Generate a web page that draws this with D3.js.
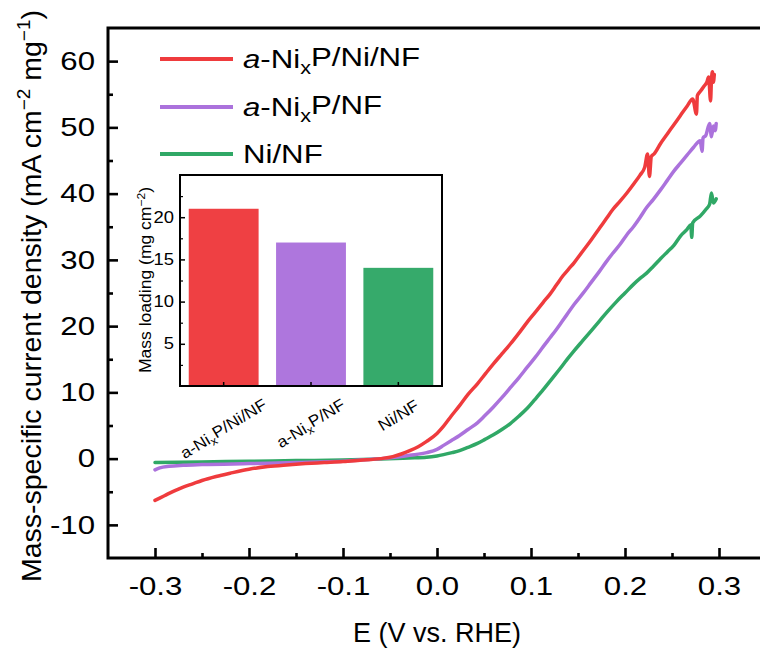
<!DOCTYPE html>
<html><head><meta charset="utf-8">
<script src="https://cdn.jsdelivr.net/npm/d3@7"></script>
<style>
body{margin:0;background:#fff}
svg{display:block}
text{font-family:Arial,"Liberation Sans",sans-serif;fill:#000}
</style>
</head><body>
<svg id="c" width="760" height="649"></svg>
<script>
// ---------------- DATA ----------------
const seriesNames = ["a-NixP/Ni/NF", "a-NixP/NF", "Ni/NF"];
const seriesColors = ["#ef3b3d", "#ab72dc", "#30a866"];

const redE = [-0.300,-0.290,-0.280,-0.270,-0.260,-0.250,-0.235,-0.220,-0.200,-0.180,-0.160,-0.140,-0.120,-0.100,-0.082,-0.060,-0.047,-0.038,-0.029,-0.020,-0.011,0.000,0.007,0.015,0.024,0.033,0.043,0.052,0.060,0.069,0.078,0.088,0.096,0.104,0.113,0.120,0.127,0.134,0.140,0.146,0.155,0.164,0.173,0.180,0.187,0.195,0.202,0.210,0.216,0.221,0.224,0.226,0.228,0.231,0.238,0.245,0.252,0.259,0.266,0.272,0.276,0.277,0.280,0.284,0.287,0.289,0.291,0.292,0.293,0.294,0.295];
const redJ = [-6.3,-5.6,-4.9,-4.3,-3.8,-3.3,-2.7,-2.2,-1.6,-1.2,-0.95,-0.75,-0.6,-0.45,-0.25,0.0,0.3,0.7,1.2,1.8,2.6,3.8,4.9,6.4,8.0,9.7,11.3,12.9,14.3,15.8,17.3,19.1,20.6,22.0,23.6,24.8,26.2,27.6,28.6,29.6,31.3,33.0,34.8,36.2,37.6,38.9,40.1,41.6,42.8,44.0,46.0,42.6,45.6,46.0,47.6,49.0,50.4,51.8,53.2,54.3,52.0,54.8,55.4,56.2,56.8,57.6,54.0,57.2,58.4,56.8,58.0];

const purpleE = [-0.300,-0.295,-0.285,-0.270,-0.250,-0.200,-0.150,-0.100,-0.082,-0.060,-0.045,-0.029,-0.011,0.000,0.007,0.015,0.024,0.033,0.043,0.051,0.060,0.069,0.078,0.087,0.096,0.104,0.113,0.120,0.127,0.131,0.138,0.146,0.155,0.164,0.173,0.180,0.187,0.195,0.202,0.209,0.216,0.223,0.230,0.238,0.245,0.252,0.259,0.266,0.273,0.280,0.282,0.283,0.286,0.290,0.292,0.294,0.296,0.297];
const purpleJ = [-1.7,-1.4,-1.15,-1.0,-0.9,-0.75,-0.6,-0.4,-0.2,0.0,0.2,0.5,0.9,1.4,2.0,2.7,3.5,4.4,5.4,6.5,7.8,9.2,10.7,12.2,13.8,15.2,16.9,18.2,19.5,20.3,21.7,23.3,24.9,26.6,28.3,29.7,31.0,32.4,33.8,35.0,36.4,37.9,39.1,40.6,42.0,43.4,44.6,45.8,47.0,48.0,46.4,48.4,48.8,50.6,48.6,50.2,49.5,50.6];

const greenE = [-0.300,-0.250,-0.200,-0.150,-0.100,-0.060,-0.030,-0.011,0.000,0.007,0.016,0.024,0.033,0.043,0.051,0.060,0.069,0.078,0.087,0.096,0.104,0.113,0.122,0.131,0.138,0.146,0.155,0.164,0.173,0.182,0.191,0.200,0.209,0.216,0.223,0.230,0.238,0.245,0.252,0.259,0.266,0.270,0.271,0.272,0.280,0.286,0.290,0.292,0.294,0.297];
const greenJ = [-0.6,-0.5,-0.4,-0.3,-0.2,-0.05,0.1,0.2,0.4,0.6,0.9,1.2,1.7,2.3,2.9,3.6,4.4,5.3,6.4,7.6,8.9,10.4,12.0,13.6,14.9,16.3,17.8,19.3,20.8,22.3,23.7,25.0,26.3,27.2,28.0,29.0,30.2,31.2,32.2,33.6,34.6,35.3,33.4,35.6,36.6,37.6,38.4,40.1,38.6,39.2];

const xTicks = [-0.3,-0.2,-0.1,0,0.1,0.2,0.3];
const xMinorTicks = [-0.25,-0.15,-0.05,0.05,0.15,0.25];
const yTicks = [-10,0,10,20,30,40,50,60];
const yMinorTicks = [-5,5,15,25,35,45,55];

const insetCategories = ["a-NixP/Ni/NF", "a-NixP/NF", "Ni/NF"];
const insetValues = [21, 17, 14];
const insetColors = ["#ef4043", "#ae76dd", "#36aa6b"];
const insetYTicks = [5,10,15,20];
const insetYMinor = [2.5,7.5,12.5,17.5,22.5];

const xTitle = "E (V vs. RHE)";
const insetYTitle = "Mass loading (mg cm";

// ---------------- DRAW ----------------
const svg = d3.select("#c");
svg.append("rect").attr("width",760).attr("height",649).attr("fill","#fff");

const x = d3.scaleLinear().domain([-0.35,0.35]).range([108,766]);
const y = d3.scaleLinear().domain([-15,65]).range([558,28]);

const fmtSign = d => (d < 0 ? "-" : "") + Math.abs(d);

// helper: write label with "Nix" subscript and italic leading "a"
function richLabel(sel, label, italicA, subSize){
  const idx = label.indexOf("Nix");
  if (idx < 0) { sel.append("tspan").text(label); return; }
  let before = label.slice(0, idx + 2);
  const after = label.slice(idx + 3);
  if (italicA && before.startsWith("a")) {
    sel.append("tspan").attr("font-style","italic").text("a");
    before = before.slice(1);
  }
  sel.append("tspan").text(before);
  sel.append("tspan").attr("font-size", subSize).attr("dy","0.3em").text("x");
  sel.append("tspan").attr("dy","-0.3em").text(after);
}

// clip
svg.append("clipPath").attr("id","plotClip").append("rect")
  .attr("x",108).attr("y",28).attr("width",658).attr("height",530);

// curves
const allSeries = [
  d3.zip(redE, redJ),
  d3.zip(purpleE, purpleJ),
  d3.zip(greenE, greenJ)
];
const line = d3.line().curve(d3.curveMonotoneX).x(d => x(d[0])).y(d => y(d[1]));
const curveG = svg.append("g").attr("clip-path","url(#plotClip)");
[2,1,0].forEach(i => {
  curveG.append("path").datum(allSeries[i])
    .attr("d", line).attr("fill","none")
    .attr("stroke", seriesColors[i]).attr("stroke-width",3.5)
    .attr("stroke-linejoin","round").attr("stroke-linecap","round");
});

// axes
function styleAxis(g){
  g.select(".domain").remove();
  g.selectAll(".tick line").attr("stroke","#000").attr("stroke-width",2.6);
}
const gY = svg.append("g").attr("transform","translate(108,0)")
  .call(d3.axisLeft(y).tickValues(yTicks).tickSize(-10).tickSizeOuter(0).tickPadding(13).tickFormat(fmtSign));
styleAxis(gY);
gY.selectAll(".tick text").attr("font-size",26).attr("font-family","Arial, 'Liberation Sans', sans-serif")
  .attr("x",-13/1.2).attr("transform","scale(1.2,1)");
const gYm = svg.append("g").attr("transform","translate(108,0)")
  .call(d3.axisLeft(y).tickValues(yMinorTicks).tickSize(-5).tickFormat(""));
styleAxis(gYm);

const gX = svg.append("g").attr("transform","translate(0,558)")
  .call(d3.axisBottom(x).tickValues(xTicks).tickSize(-10).tickSizeOuter(0).tickPadding(19).tickFormat(d => d.toFixed(1)));
styleAxis(gX);
gX.selectAll(".tick text").attr("font-size",26).attr("font-family","Arial, 'Liberation Sans', sans-serif")
  .attr("transform","scale(1.2,1)").attr("x",0);
const gXm = svg.append("g").attr("transform","translate(0,558)")
  .call(d3.axisBottom(x).tickValues(xMinorTicks).tickSize(-5).tickFormat(""));
styleAxis(gXm);

// frame
svg.append("rect").attr("x",108).attr("y",28).attr("width",658).attr("height",530)
  .attr("fill","none").attr("stroke","#000").attr("stroke-width",3);

// titles
svg.append("text").attr("x",437).attr("y",642).attr("text-anchor","middle")
  .attr("font-size",27).text(xTitle);

const yt = svg.append("text").attr("transform","translate(41,296) rotate(-90)")
  .attr("text-anchor","middle").attr("font-size",27).attr("textLength",572).attr("lengthAdjust","spacingAndGlyphs");
yt.append("tspan").text("Mass-specific current density (mA cm");
yt.append("tspan").attr("font-size",18).attr("dy",-11).text("\u22122");
yt.append("tspan").attr("dy",11).text(" mg");
yt.append("tspan").attr("font-size",18).attr("dy",-11).text("\u22121");
yt.append("tspan").attr("dy",11).text(")");

// legend
const legY = [59, 107, 154];
seriesNames.forEach((name, i) => {
  svg.append("line").attr("x1",160).attr("x2",233).attr("y1",legY[i]).attr("y2",legY[i])
    .attr("stroke",seriesColors[i]).attr("stroke-width",4);
  const t = svg.append("g").attr("transform",`translate(243,${legY[i]}) scale(1.2,1)`)
    .append("text").attr("dy","0.36em").attr("font-size",26);
  richLabel(t, name, true, 18);
});

// ---------------- INSET ----------------
const ix = d3.scaleBand().domain(insetCategories).range([180,442]).paddingInner(0.2).paddingOuter(0.1);
const iy = d3.scaleLinear().domain([0,25]).range([386,175]);

svg.append("rect").attr("x",180).attr("y",175).attr("width",262).attr("height",211).attr("fill","#fff");
svg.append("g").selectAll("rect").data(insetValues).join("rect")
  .attr("x",(d,i) => ix(insetCategories[i])).attr("width",ix.bandwidth())
  .attr("y", d => iy(d)).attr("height", d => iy(0) - iy(d))
  .attr("fill",(d,i) => insetColors[i]);

const giY = svg.append("g").attr("transform","translate(180,0)")
  .call(d3.axisLeft(iy).tickValues(insetYTicks).tickSize(-5).tickPadding(6));
giY.select(".domain").remove();
giY.selectAll(".tick line").attr("stroke","#000").attr("stroke-width",1.5);
giY.selectAll(".tick text").attr("font-size",16).attr("font-family","Arial, 'Liberation Sans', sans-serif")
  .attr("x",-6/1.15).attr("transform","scale(1.15,1)");
const giYm = svg.append("g").attr("transform","translate(180,0)")
  .call(d3.axisLeft(iy).tickValues(insetYMinor).tickSize(-3).tickFormat(""));
giYm.select(".domain").remove();
giYm.selectAll(".tick line").attr("stroke","#000").attr("stroke-width",1.2);

const giX = svg.append("g").attr("transform","translate(0,386)")
  .call(d3.axisBottom(ix).tickSize(-4).tickFormat(""));
giX.select(".domain").remove();
giX.selectAll(".tick line").attr("stroke","#000").attr("stroke-width",1.5);

svg.append("rect").attr("x",180).attr("y",175).attr("width",262).attr("height",211)
  .attr("fill","none").attr("stroke","#000").attr("stroke-width",2);

// inset x labels rotated
const ang = 31, stretch = 1.08, fsz = 16;
insetCategories.forEach(c => {
  const g = svg.append("g");
  const t = g.append("text").attr("text-anchor","middle").attr("dy","0.35em").attr("font-size",fsz);
  richLabel(t, c, false, 11.5);
  const w = t.node().getComputedTextLength() * stretch;
  const rad = ang * Math.PI / 180;
  const half = (w * Math.sin(rad) + fsz * Math.cos(rad)) / 2;
  const cx = ix(c) + ix.bandwidth() / 2;
  g.attr("transform",`translate(${cx},${397 + half}) rotate(${-ang}) scale(${stretch},1)`);
});

// inset y title
const iyt = svg.append("text").attr("transform","translate(151,280) rotate(-90)")
  .attr("text-anchor","middle").attr("font-size",16).attr("textLength",186).attr("lengthAdjust","spacingAndGlyphs");
iyt.append("tspan").text(insetYTitle);
iyt.append("tspan").attr("font-size",11).attr("dy",-6).text("\u22122");
iyt.append("tspan").attr("dy",6).text(")");
</script>
</body></html>
